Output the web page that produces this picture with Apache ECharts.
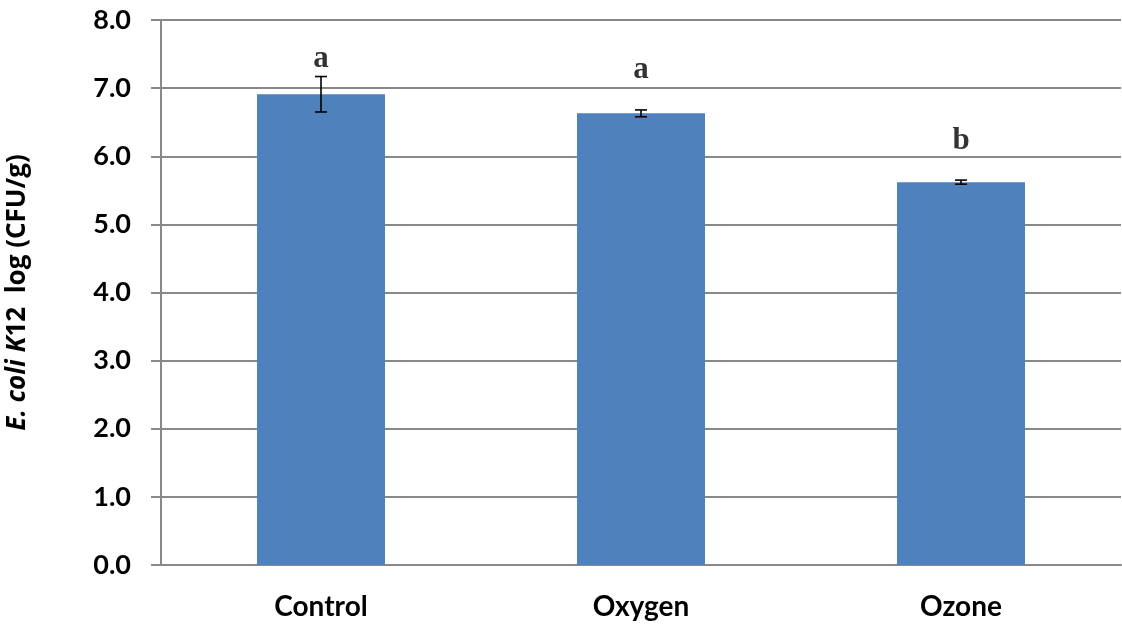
<!DOCTYPE html>
<html>
<head>
<meta charset="utf-8">
<script src="https://cdn.jsdelivr.net/npm/echarts@6/dist/echarts.min.js"></script>
<style>
  html, body { margin: 0; padding: 0; background: #fff; }
  #chart { width: 1122px; height: 624px; }
</style>
</head>
<body>
<div id="chart"></div>
<script>
// data
var categories = ['Control', 'Oxygen', 'Ozone'];
var means = [6.91, 6.63, 5.62];
var errors = [0.26, 0.05, 0.03];
var letters = ['a', 'a', 'b'];
var letterY = [7.43, 7.26, 6.22]; // where the significance letters sit

var myChart = echarts.init(document.getElementById('chart'));

var errData = categories.map(function (c, i) {
  return [i, means[i] - errors[i], means[i] + errors[i]];
});
var letterData = categories.map(function (c, i) {
  return { value: [i, letterY[i]], label: { formatter: letters[i] } };
});

var option = {
  animation: false,
  grid: { left: 161, right: 1, top: 20, bottom: 59, outerBoundsMode: 'none' },
  xAxis: {
    type: 'category',
    data: categories,
    axisLine: { lineStyle: { color: '#888', width: 2 } },
    axisTick: { show: false },
    axisLabel: {
      color: '#000', fontSize: 28, fontWeight: 'bold',
      fontFamily: 'Lato', margin: 28
    }
  },
  yAxis: {
    type: 'value',
    min: 0, max: 8, interval: 1,
    name: '{i|E. coli K}{n|12  log (CFU/g)}',
    nameLocation: 'middle',
    nameGap: 130,
    nameRotate: 90,
    nameTextStyle: {
      rich: {
        i: { fontSize: 26, fontWeight: 'bold', fontStyle: 'italic', fontFamily: 'Open Sans', color: '#000' },
        n: { fontSize: 26, fontWeight: 'bold', fontFamily: 'Open Sans', color: '#000' }
      }
    },
    axisLine: { show: true, lineStyle: { color: '#888', width: 2 } },
    axisTick: { show: true, length: 10, lineStyle: { color: '#888', width: 2 } },
    splitLine: { lineStyle: { color: '#888', width: 2 } },
    axisLabel: {
      color: '#000', fontSize: 27, fontWeight: 'bold', fontFamily: 'Lato',
      margin: 30,
      formatter: function (v) { return v.toFixed(1); }
    }
  },
  series: [
    {
      type: 'bar',
      data: means,
      barWidth: '40%',
      itemStyle: { color: '#4f81bd' },
      z: 2
    },
    {
      type: 'custom',
      data: errData,
      z: 3,
      renderItem: function (params, api) {
        var x = api.value(0);
        var lo = api.coord([x, api.value(1)]);
        var hi = api.coord([x, api.value(2)]);
        var hw = 6;
        var style = { stroke: '#000', lineWidth: 1.6 };
        return {
          type: 'group',
          children: [
            { type: 'line', shape: { x1: lo[0], y1: lo[1], x2: hi[0], y2: hi[1] }, style: style },
            { type: 'line', shape: { x1: lo[0] - hw, y1: lo[1], x2: lo[0] + hw, y2: lo[1] }, style: style },
            { type: 'line', shape: { x1: hi[0] - hw, y1: hi[1], x2: hi[0] + hw, y2: hi[1] }, style: style }
          ]
        };
      }
    },
    {
      type: 'scatter',
      data: letterData,
      symbolSize: 0,
      z: 4,
      label: {
        show: true,
        position: 'inside',
        color: '#000',
        fontSize: 31,
        fontWeight: 'bold',
        fontFamily: 'Liberation Serif'
      }
    }
  ]
};

myChart.setOption(option);
</script>
</body>
</html>
